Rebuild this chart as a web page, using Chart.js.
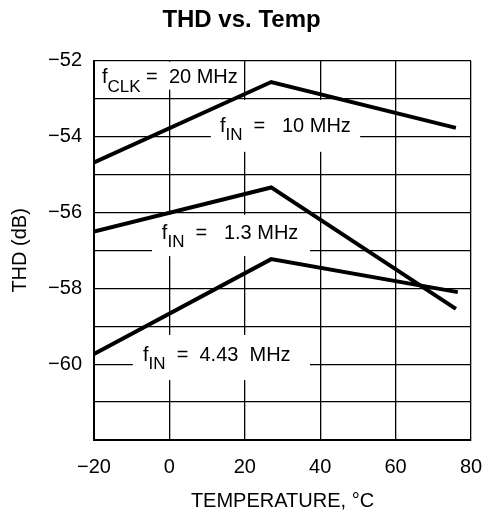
<!DOCTYPE html>
<html>
<head>
<meta charset="utf-8">
<script src="https://cdn.jsdelivr.net/npm/chart.js@4/dist/chart.umd.min.js"></script>
<style>
html,body{margin:0;padding:0;background:#fff;}
#wrap{width:483px;height:520px;}
</style>
</head>
<body>
<div id="wrap"><canvas id="c" width="483" height="520"></canvas></div>
<script>
// ---- data ----
const temps10 = [-20, 27, 76];
const thd10MHz = [-54.68, -52.56, -53.77];
const temps13 = [-20, 27, 76];
const thd13MHz = [-56.5, -55.34, -58.54];
const temps443 = [-20, 27, 76.5];
const thd443MHz = [-59.73, -57.23, -58.1];
const xTicks = [-20, 0, 20, 40, 60, 80];
const yLabelValues = [-52, -54, -56, -58, -60];

// annotation labels (data coordinates)
const labelMain = ['f', 'f', 'f', 'f'];
const labelSub = ['CLK', 'IN', 'IN', 'IN'];
const labelRest = [' =  20 MHz', '  =   10 MHz', '  =   1.3 MHz', '  =  4.43  MHz'];
const labelAt = [[-17.9, -52.45], [13.4, -53.73], [-2.0, -56.55], [-7.0, -59.76]];
const labelBox = [[-20, 18.7, -52, -52.76], [11.0, 50.6, -53.03, -54.40], [-4.6, 37.3, -56.06, -57.15], [-9.7, 37.3, -59.23, -60.42]];

const FONT = '"Liberation Sans Narrow", "Liberation Sans", Arial, sans-serif';
const TFONT = '"Liberation Sans", Arial, sans-serif';

function pts(xs, ys) { return xs.map((x, i) => ({x: x, y: ys[i]})); }

const labelPlugin = {
  id: 'labels',
  beforeDatasetsDraw(chart) {
    const ctx = chart.ctx, xs = chart.scales.x, ys = chart.scales.y;
    ctx.save();
    for (let i = 0; i < labelMain.length; i++) {
      const b = labelBox[i];
      const x0 = xs.getPixelForValue(b[0]), x1 = xs.getPixelForValue(b[1]);
      const y0 = ys.getPixelForValue(b[2]), y1 = ys.getPixelForValue(b[3]);
      ctx.fillStyle = '#fff';
      const inset = i === 0 ? 1 : 0;
      ctx.fillRect(Math.min(x0, x1) + inset, Math.min(y0, y1) + inset, Math.abs(x1 - x0) - inset, Math.abs(y1 - y0) - inset);
      const px = xs.getPixelForValue(labelAt[i][0]);
      const py = ys.getPixelForValue(labelAt[i][1]);
      ctx.fillStyle = '#000';
      ctx.textBaseline = 'middle';
      ctx.textAlign = 'left';
      ctx.font = '20px ' + FONT;
      ctx.fillText(labelMain[i], px, py);
      const w1 = ctx.measureText(labelMain[i]).width;
      ctx.font = '17px ' + FONT;
      ctx.fillText(labelSub[i], px + w1, py + 9);
      const w2 = ctx.measureText(labelSub[i]).width;
      ctx.font = '20px ' + FONT;
      ctx.fillText(labelRest[i], px + w1 + w2, py);
    }
    ctx.restore();
  }
};

const minus = v => (v < 0 ? '\u2212' + Math.abs(v) : String(v));

const canvas = document.getElementById('c');
const ctx2d = canvas.getContext('2d');
ctx2d.letterSpacing = '1px';

new Chart(ctx2d, {
  type: 'scatter',
  data: {
    datasets: [
      {label: 'fIN = 10 MHz', data: pts(temps10, thd10MHz)},
      {label: 'fIN = 1.3 MHz', data: pts(temps13, thd13MHz)},
      {label: 'fIN = 4.43 MHz', data: pts(temps443, thd443MHz)}
    ].map(d => Object.assign(d, {showLine: true, borderColor: '#000', borderWidth: 4, pointRadius: 0, fill: false, tension: 0}))
  },
  plugins: [labelPlugin],
  options: {
    responsive: false,
    animation: false,
    devicePixelRatio: 1,
    layout: {padding: {left: 0, right: 0, top: 0, bottom: 0}},
    plugins: {
      legend: {display: false},
      tooltip: {enabled: false},
      title: {
        display: true,
        text: 'THD vs. Temp',
        color: '#000',
        font: {family: TFONT, size: 24, weight: 'bold'},
        padding: {top: 6, bottom: 26}
      }
    },
    scales: {
      x: {
        type: 'linear',
        min: -20, max: 80,
        afterBuildTicks: s => { s.ticks = xTicks.map(v => ({value: v})); },
        afterFit: s => { s.height = 80; s.paddingRight = 12; },
        border: {display: true, color: '#000', width: 2},
        grid: {color: '#000', lineWidth: 1.3, drawTicks: false},
        ticks: {color: '#000', font: {family: FONT, size: 20}, padding: 15, callback: v => minus(v), maxRotation: 0},
        title: {display: true, text: 'TEMPERATURE, \u00B0C', color: '#000', font: {family: FONT, size: 20}, padding: {top: 7, bottom: 7}}
      },
      y: {
        type: 'linear',
        min: -62, max: -52,
        afterFit: s => { s.width = 94; },
        border: {display: true, color: '#000', width: 2},
        grid: {color: '#000', lineWidth: 1.3, drawTicks: false},
        ticks: {stepSize: 1, color: '#000', font: {family: FONT, size: 20}, padding: 12,
          callback: v => (yLabelValues.includes(v) ? minus(v) : '')},
        title: {display: true, text: 'THD (dB)', color: '#000', font: {family: FONT, size: 20}, padding: {top: 8, bottom: 6}}
      }
    }
  }
});
</script>
</body>
</html>
